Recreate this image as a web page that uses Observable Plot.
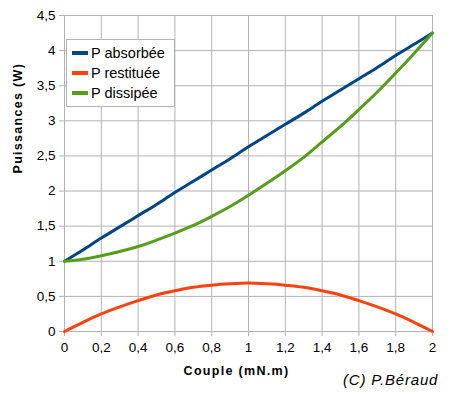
<!DOCTYPE html>
<html><head><meta charset="utf-8">
<script src="https://cdn.jsdelivr.net/npm/d3@7"></script>
<script src="https://cdn.jsdelivr.net/npm/@observablehq/plot@0.6"></script>
<style>
body{margin:0;background:#fff;font-family:"Liberation Sans",Arial,sans-serif;}
#wrap{position:relative;width:455px;height:394px;}
#legend{position:absolute;left:66px;top:39px;width:109px;height:68px;border:1px solid #b3b3b3;background:#fff;box-sizing:border-box;font-size:14.5px;}
.row{position:absolute;left:5px;height:20px;display:flex;align-items:center;white-space:nowrap;}
.sw{width:16px;height:4px;margin-right:3px;}
#credit{position:absolute;left:343px;top:371px;font-style:italic;font-size:15px;letter-spacing:0.8px;color:#000;}
.lab text{letter-spacing:1.3px;}
</style></head><body>
<div id="wrap"></div>
<script>
const couple = [0,0.1,0.2,0.3,0.4,0.5,0.6,0.7,0.8,0.9,1.0,1.1,1.2,1.3,1.4,1.5,1.6,1.7,1.8,1.9,2.0];
const pAbsorbee = [1,1.16,1.33,1.49,1.65,1.81,1.98,2.14,2.30,2.46,2.63,2.79,2.95,3.11,3.28,3.44,3.60,3.76,3.93,4.09,4.25];
const pRestituee = [0,0.13,0.25,0.35,0.44,0.52,0.58,0.63,0.66,0.68,0.69,0.68,0.66,0.63,0.58,0.52,0.44,0.35,0.25,0.13,0];
const pDissipee = [1,1.03,1.08,1.14,1.21,1.30,1.40,1.51,1.64,1.78,1.94,2.11,2.29,2.48,2.70,2.92,3.16,3.41,3.68,3.96,4.25];
const seriesNames = ["P absorbée","P restituée","P dissipée"];
const seriesColors = ["#004586","#ff420e","#579d1c"];
const xTicks = [0,0.2,0.4,0.6,0.8,1,1.2,1.4,1.6,1.8,2];
const yTicks = [0,0.5,1,1.5,2,2.5,3,3.5,4,4.5];
const xLabel = "Couple (mN.m)";
const yLabel = "Puissances (W)";
const credit = "(C) P.Béraud";

const seriesVals = [pAbsorbee,pRestituee,pDissipee];
const data = [];
seriesVals.forEach((vals,i)=>vals.forEach((v,j)=>data.push({x:couple[j],y:v,s:seriesNames[i]})));
const fmt = d => String(d).replace(".", ",");

const chart = Plot.plot({
  width:455, height:394,
  marginLeft:64, marginRight:23, marginTop:15, marginBottom:63,
  style:{fontFamily:"'Liberation Sans', Arial, sans-serif", fontSize:"13.5px", color:"#000", background:"#fff"},
  x:{domain:[0,2]},
  y:{domain:[0,4.5]},
  color:{domain:seriesNames, range:seriesColors},
  marks:[
    Plot.gridX(xTicks,{stroke:"#b3b3b3", strokeOpacity:1}),
    Plot.gridY(yTicks,{stroke:"#b3b3b3", strokeOpacity:1}),
    Plot.axisX({ticks:xTicks, tickFormat:fmt, tickSize:5, tickPadding:6, stroke:"#b3b3b3", fill:"#000", label:null}),
    Plot.axisY({ticks:yTicks, tickFormat:fmt, tickSize:5, tickPadding:4, stroke:"#b3b3b3", fill:"#000", label:null}),
    Plot.line(data,{x:"x", y:"y", z:"s", stroke:"s", strokeWidth:3, curve:"catmull-rom"}),
    Plot.text([xLabel],{frameAnchor:"bottom", dx:-12, dy:43, fontWeight:"bold", fontSize:12.5, fill:"#000", className:"lab"}),
    Plot.text([yLabel],{frameAnchor:"left", dx:-47, rotate:-90, fontWeight:"bold", fontSize:12.5, fill:"#000", className:"lab"})
  ]
});
const wrap = document.getElementById("wrap");
wrap.appendChild(chart);
const leg = document.createElement("div");
leg.id = "legend";
seriesNames.forEach((n,i)=>{
  const r = document.createElement("div");
  r.className = "row";
  r.style.top = (3 + i*20) + "px";
  const sw = document.createElement("div");
  sw.className = "sw"; sw.style.background = seriesColors[i];
  const t = document.createElement("span"); t.textContent = n;
  r.appendChild(sw); r.appendChild(t); leg.appendChild(r);
});
wrap.appendChild(leg);
const c = document.createElement("div"); c.id = "credit"; c.textContent = credit; wrap.appendChild(c);
</script>
</body></html>
